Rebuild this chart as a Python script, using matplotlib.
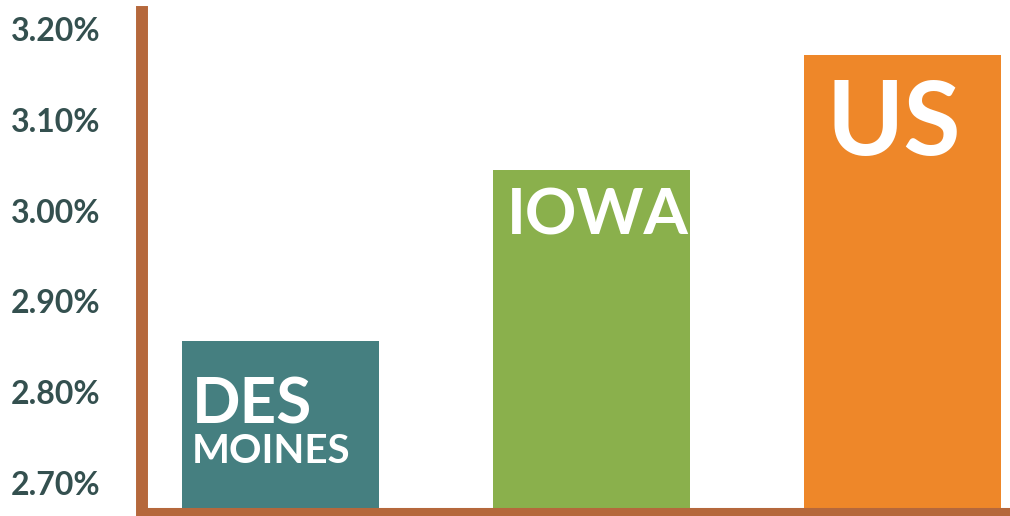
import matplotlib
matplotlib.use("Agg")
import matplotlib.pyplot as plt
from matplotlib.ticker import FuncFormatter

# data (percent)
regions = ["DES\nMOINES", "IOWA", "US"]
values = [2.856, 3.045, 3.171]
colors = ["#457f80", "#8ab04c", "#ee8729"]
yticks = [2.70, 2.80, 2.90, 3.00, 3.10, 3.20]

axis_color = "#b5683c"
text_color = "#34504f"

W, H = 1010, 516
fig = plt.figure(figsize=(W / 100, H / 100), dpi=100)
ax = fig.add_axes([142 / W, 4 / H, (W - 142) / W, 500 / H])

x = list(range(len(regions)))
ymin = 2.70 - 29 / 908
ax.bar(x, [v - ymin for v in values], bottom=ymin, width=0.633, color=colors, zorder=2)

ax.set_xlim(-0.445, 2.346)
ax.set_ylim(ymin, 3.20 + 17 / 908)
ax.set_yticks(yticks)
ax.yaxis.set_major_formatter(FuncFormatter(lambda v, p: f"{v:.2f}%"))
ax.tick_params(axis="y", length=0, pad=30, labelsize=23, labelcolor=text_color)
for lbl in ax.get_yticklabels():
    lbl.set_fontfamily("Lato")
    lbl.set_fontweight("bold")
ax.set_xticks([])

for side in ["top", "right"]:
    ax.spines[side].set_visible(False)
ax.spines["left"].set_color(axis_color)
ax.spines["left"].set_linewidth(8.6)
ax.spines["bottom"].set_color(axis_color)
ax.spines["bottom"].set_linewidth(5.8)
ax.spines["bottom"].set_capstyle("projecting")
ax.spines["left"].set_zorder(3)
ax.spines["bottom"].set_zorder(3)

# labels inside the bars
label_style = [
    (["DES", "MOINES"], [46, 29], [(7, -25.5), (7, -66)]),
    (["IOWA"], [46], [(10, -13)]),
    (["US"], [75], [(16.5, -16)]),
]
for i, (lines, sizes, offs) in enumerate(label_style):
    for t, s, o in zip(lines, sizes, offs):
        ax.annotate(t, xy=(x[i] - 0.633 / 2, values[i]), xytext=o,
                    textcoords="offset points", ha="left", va="top",
                    color="white", fontsize=s, fontfamily="Lato",
                    fontweight="bold", zorder=4)

fig.savefig("out.png", dpi=100)
